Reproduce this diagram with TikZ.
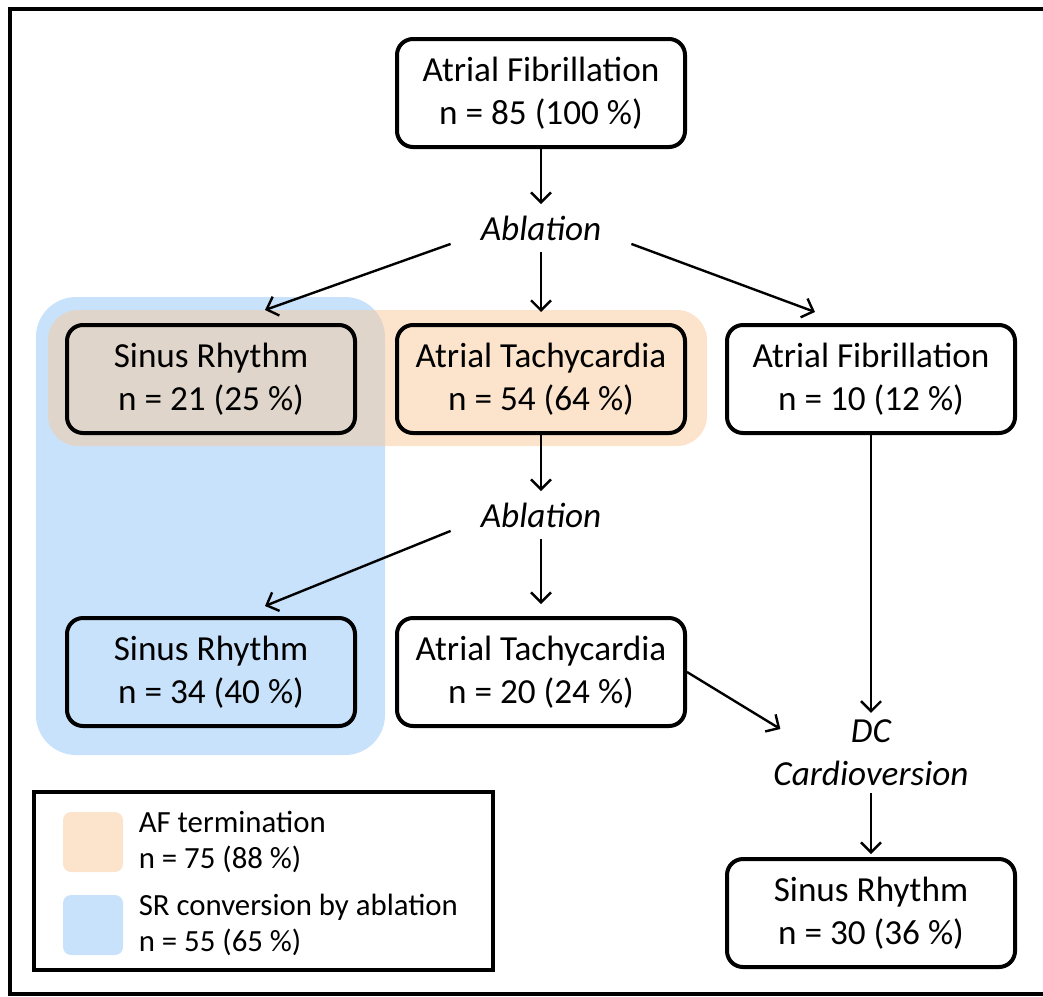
\documentclass[tikz,border=0pt]{standalone}
\usepackage{fontspec}
\setmainfont{Carlito}
\usepackage{tikz}
\usetikzlibrary{arrows.meta, positioning}
\definecolor{srblue}{RGB}{200,226,252}
\definecolor{afpeach}{RGB}{252,228,204}
\definecolor{afpeachbase}{RGB}{249,201,153}
\tikzstyle{state}=[draw, line width=2pt, rounded corners=8pt, minimum width=144pt, minimum height=54pt, align=center, font=\fontsize{17.6}{21.5}\selectfont]
\tikzstyle{action}=[minimum width=90pt, minimum height=23.5pt, align=center, font=\fontsize{17.6}{21.5}\selectfont\itshape]
\tikzstyle{flow}=[-{Straight Barb[length=5pt,width=10pt]}, line width=1.2pt]
\tikzstyle{swatch}=[minimum size=30pt, inner sep=0pt, rounded corners=4pt]
\tikzstyle{legendtext}=[inner sep=0pt, align=left, font=\fontsize{15.4}{18}\selectfont]

\begin{document}
\begin{tikzpicture}[x=0.5pt, y=-0.5pt]
  \useasboundingbox (0,0) rectangle (1043,996);
  \draw[line width=2pt] (10,9) rectangle (1080,994);

  % groups behind the boxes
  \fill[srblue, rounded corners=20pt] (36,297) rectangle (385,755);
  \fill[afpeachbase, fill opacity=0.5, rounded corners=15pt] (48,310) rectangle (707,446);

  \node[state, fill=white] (af0)  at (541,93)  {Atrial Fibrillation\\n = 85 (100 \%)};
  \node[action]            (abl1) at (541,228) {Ablation};

  \node[state]             (sr1)  at (211,379) {Sinus Rhythm\\n = 21 (25 \%)};
  \node[state]             (at1)  at (541,379) {Atrial Tachycardia\\n = 54 (64 \%)};
  \node[state, fill=white] (af1)  at (871,379) {Atrial Fibrillation\\n = 10 (12 \%)};

  \node[action]            (abl2) at (541,515) {Ablation};

  \node[state]             (sr2)  at (211,672) {Sinus Rhythm\\n = 34 (40 \%)};
  \node[state, fill=white] (at2)  at (541,672) {Atrial Tachycardia\\n = 20 (24 \%)};
  \node[action]            (dc)   at (871,753) {DC\\Cardioversion};
  \node[state, fill=white] (sr3)  at (871,913) {Sinus Rhythm\\n = 30 (36 \%)};

  \draw[flow] (af0) -- (abl1);
  \draw[flow] (abl1.190) -- ([shift={(54,-13)}]sr1.north);
  \draw[flow, shorten >=5.5pt] (abl1) -- (at1);
  \draw[flow] (abl1.-10) -- ([shift={(-56,-11)}]af1.north);
  \draw[flow] (at1) -- (abl2);
  \draw[flow] (abl2.190) -- ([shift={(54,-10)}]sr2.north);
  \draw[flow, shorten >=6pt] (abl2) -- (at2);
  \draw[flow] (af1) -- (dc);
  \draw[flow] (at2.east) -- ([shift={(14,-24)}]dc.west);
  \draw[flow, shorten >=1.5pt] (dc) -- (sr3);

  % legend
  \node[draw, line width=2pt, minimum width=229.5pt, minimum height=89pt] (legend) at (263.5,881) {};
  \node[swatch, fill=afpeach] (swaf) at (93,842) {};
  \node[swatch, fill=srblue]  (swsr) at (93,925) {};
  \node[legendtext, right=7.5pt of swaf] (txaf) {AF termination\\n = 75 (88 \%)};
  \node[legendtext, right=7.5pt of swsr] (txsr) {SR conversion by ablation\\n = 55 (65 \%)};
\end{tikzpicture}
\end{document}
